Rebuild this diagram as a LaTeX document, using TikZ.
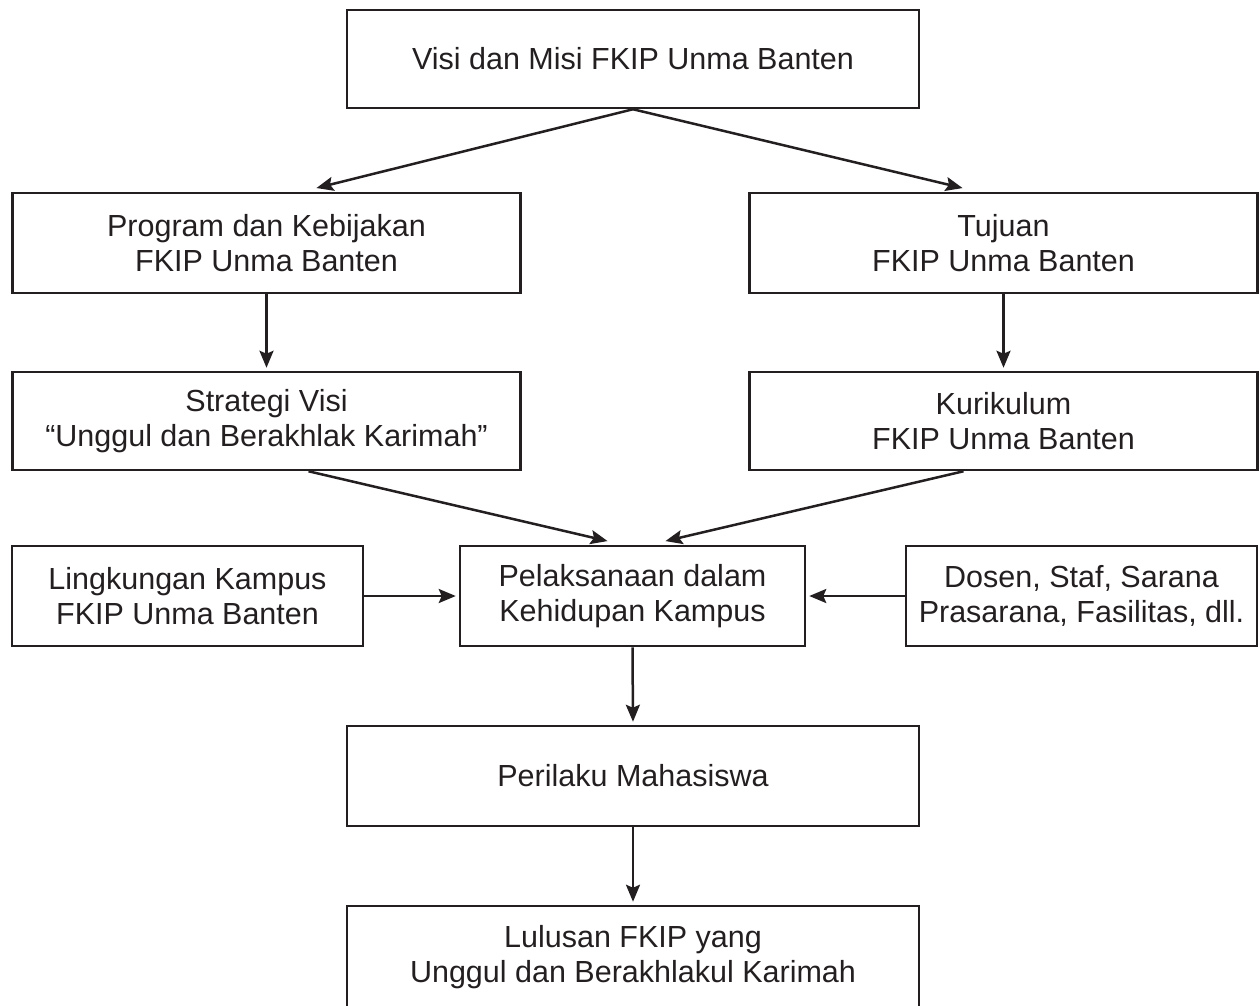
\documentclass[tikz,border=0pt]{standalone}
\usepackage{fontspec}
\setmainfont{Liberation Sans}
\usetikzlibrary{arrows.meta}
\definecolor{ink}{HTML}{231F20}

\begin{document}
\begin{tikzpicture}[x=1pt, y=-1pt, every node/.style = {shape=rectangle, draw=ink, text=ink, line width=2.5pt, align=center, font=\fontsize{30.5}{35}\selectfont, minimum height=100pt}, wide/.style = {minimum width=572pt}, half/.style = {minimum width=508pt}, side/.style = {minimum width=351pt}, link/.style = {draw=ink, line width=2.5pt, shorten >=3pt, -{Stealth[length=17pt,width=14pt,inset=3pt]}}]
\path[use as bounding box, clip] (0,0) rectangle (1260,1005);
\node[wide, minimum height=98pt] (visi) at (633,59) {Visi dan Misi FKIP Unma Banten};
\node[half] (prog) at (266.5,243) {Program dan Kebijakan\\FKIP Unma Banten};
\node[half] (tuju) at (1003.5,243) {Tujuan\\FKIP Unma Banten};
\node[half, minimum height=98pt] (strat) at (266.5,421) {Strategi Visi\\“Unggul dan Berakhlak Karimah”};
\node[half, minimum height=98pt] (kuri) at (1003.5,421) {Kurikulum\\FKIP Unma Banten};
\node[side] (ling) at (187.5,596) {Lingkungan Kampus\\FKIP Unma Banten};
\node[minimum width=345pt] (pelak) at (632.5,596) {Pelaksanaan dalam\\Kehidupan Kampus};
\node[side] (dosen) at (1081.5,596) {Dosen, Staf, Sarana\\Prasarana, Fasilitas, dll.};
\node[wide] (peri) at (633,776) {Perilaku Mahasiswa};
\node[wide, minimum height=102pt] (lulus) at (633,957) {Lulusan FKIP yang\\Unggul dan Berakhlakul Karimah};
\draw[link] (visi.south) -- ([xshift=47pt,yshift=3pt]prog.north);
\draw[link] (visi.south) -- ([xshift=-38pt,yshift=3pt]tuju.north);
\draw[link] (prog.south) -- (strat.north);
\draw[link] (tuju.south) -- (kuri.north);
\draw[link] ([xshift=42pt]strat.south) -- ([xshift=-22pt,yshift=3pt]pelak.north);
\draw[link] ([xshift=-40pt]kuri.south) -- ([xshift=30pt,yshift=3pt]pelak.north);
\draw[link] (ling.east) -- (pelak.west);
\draw[link] (dosen.west) -- (pelak.east);
\draw[link] (pelak.south) -- (peri.north);
\draw[link] (peri.south) -- (lulus.north);
\end{tikzpicture}
\end{document}
